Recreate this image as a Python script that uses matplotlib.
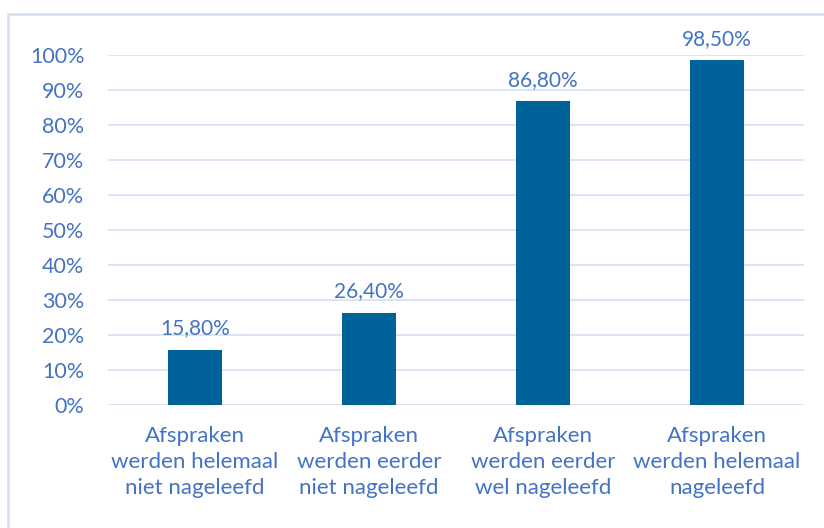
import matplotlib.pyplot as plt
from matplotlib.patches import Rectangle
from matplotlib.ticker import FuncFormatter

categories = ["Afspraken\nwerden helemaal\nniet nageleefd",
              "Afspraken\nwerden eerder\nniet nageleefd",
              "Afspraken\nwerden eerder\nwel nageleefd",
              "Afspraken\nwerden helemaal\nnageleefd"]
values = [15.8, 26.4, 86.8, 98.5]
value_labels = ["15,80%", "26,40%", "86,80%", "98,50%"]
yticks = [0, 10, 20, 30, 40, 50, 60, 70, 80, 90, 100]

bar_color = "#00629B"
text_color = "#4472C4"
grid_color = "#D9E3F3"

plt.rcParams['font.family'] = ['Lato', 'DejaVu Sans']

fig = plt.figure(figsize=(8.24, 5.28), dpi=100)
W, H = 824, 528
ax = fig.add_axes([108 / W, (H - 405) / H, 696 / W, 350 / H])

# outer chart frame
fig.patches.append(Rectangle((8 / W, -0.05), 1.2, (H - 14) / H + 0.05,
                             transform=fig.transFigure, fill=False,
                             edgecolor="#D6E2F4", linewidth=2))

x = range(len(values))
ax.bar(x, values, width=0.316, color=bar_color, zorder=3)
ax.set_xlim(-0.5, len(values) - 0.5)
ax.set_ylim(0, 100)
ax.set_yticks(yticks)
ax.yaxis.set_major_formatter(FuncFormatter(lambda v, p: "%d%%" % v))
ax.set_xticks(list(x))
ax.set_xticklabels(categories, linespacing=1.38, fontsize=16)

for i, v in enumerate(values):
    ax.annotate(value_labels[i], (i, v), xytext=(0, 8), textcoords="offset points",
                ha="center", va="bottom", color=text_color, fontsize=15)

ax.grid(axis="y", color=grid_color, linewidth=1.3, zorder=0)
for s in ax.spines.values():
    s.set_visible(False)
ax.tick_params(axis="both", length=0, colors=text_color)
ax.tick_params(axis="y", pad=17, labelsize=15.5)
ax.tick_params(axis="x", pad=15)

fig.savefig("out.png", dpi=100)
